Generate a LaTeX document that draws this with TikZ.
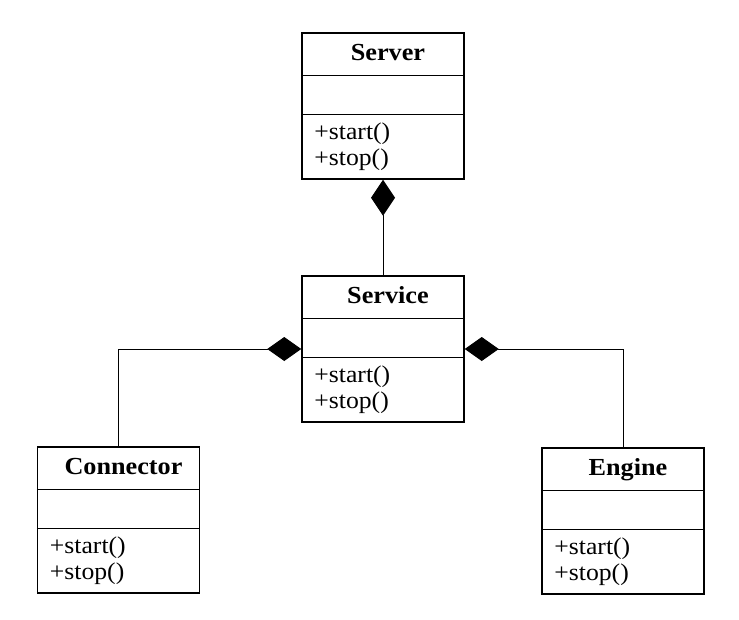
\documentclass[tikz,border=0pt]{standalone}
\usepackage{fontspec}
\setmainfont{Liberation Serif}[FakeStretch=1.07]
\usepackage{tikz}
\usetikzlibrary{arrows.meta}

% one class box: name, position, class title
\newcommand{\umlclass}[3]{%
  \node [classbox] (#1) at (#2) {};
  \draw [divider] ([yshift=-43pt]#1.north west) -- ([yshift=-43pt]#1.north east);
  \draw [divider] ([yshift=-82pt]#1.north west) -- ([yshift=-82pt]#1.north east);
  \node [classname, anchor=base] (#1-title) at ([xshift=5pt, yshift=-28.5pt]#1.north) {#3};
  \node [method, anchor=base west] (#1-start) at ([xshift=13pt, yshift=-107pt]#1.north west) {+start()};
  \node [method, anchor=base west] (#1-stop) at ([xshift=13pt, yshift=-133pt]#1.north west) {+stop()};
}

\begin{document}
\begin{tikzpicture}[x=1pt, y=-1pt,
    classbox/.style = {draw, line width=1.5pt, minimum width=162pt, minimum height=146pt, inner sep=0pt},
    divider/.style = {line width=1.3pt},
    classname/.style = {inner sep=0pt, font=\bfseries\fontsize{24.5pt}{29pt}\selectfont},
    method/.style = {inner sep=0pt, font=\fontsize{24pt}{28pt}\selectfont},
    compose/.style = {line width=1pt, {Diamond[length=#1, width=24pt]}-}]
\useasboundingbox (0,0) rectangle (739,619);

\umlclass{server}{383,106}{Server}
\umlclass{service}{383,349}{Service}
\umlclass{connector}{118.5,520}{Connector}
\umlclass{engine}{623,521}{Engine}

\draw [compose=36pt] (server.south) -- (service.north);
\draw [compose=34pt] (service.west) -| (connector.north);
\draw [compose=34pt] (service.east) -| (engine.north);
\end{tikzpicture}
\end{document}
